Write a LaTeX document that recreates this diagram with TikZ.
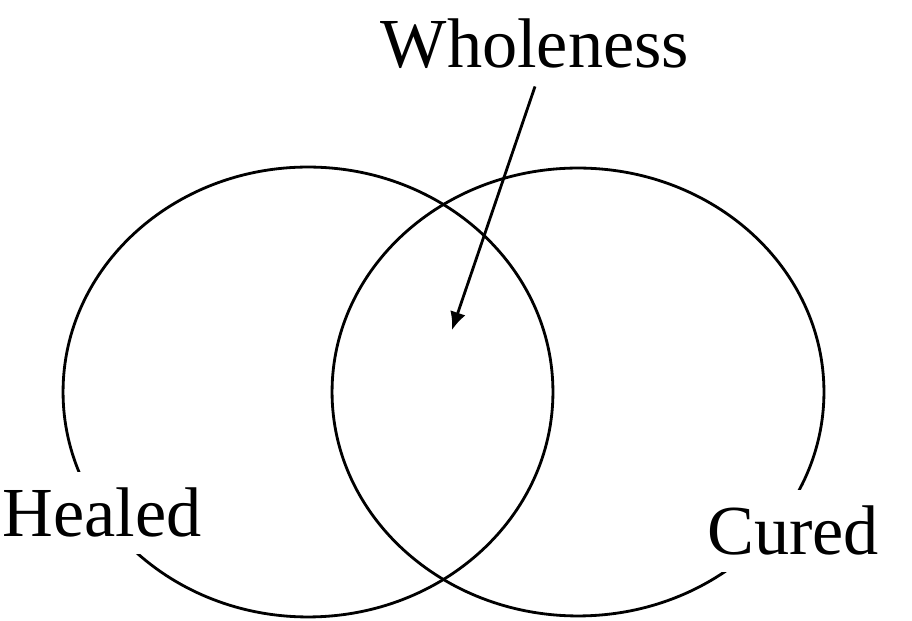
\documentclass[tikz,border=0pt]{standalone}
\usepackage{fontspec}
\setmainfont{Liberation Serif}
\usetikzlibrary{arrows.meta}
\begin{document}
\begin{tikzpicture}[x=.02cm,y=.02cm,line width=1.6pt,
  lbl/.style={fill=white,inner sep=.32cm,font=\fontsize{40}{48}\selectfont}]
  \useasboundingbox (0,0) rectangle (912,621);
  \draw (308,229) ellipse [x radius=4.9cm,y radius=4.5cm];
  \draw (578,229) ellipse [x radius=4.92cm,y radius=4.48cm];
  \node[lbl,anchor=base] (healed) at (102,84) {Healed};
  \node[lbl,anchor=base] (cured) at (793,66) {Cured};
  \node[lbl,anchor=base] (whole) at (535,553) {Wholeness};
  \coordinate (mid) at (452,291);
  \draw[-{Latex[length=.36cm,width=.32cm]}] (whole.south) -- (mid);
\end{tikzpicture}
\end{document}
